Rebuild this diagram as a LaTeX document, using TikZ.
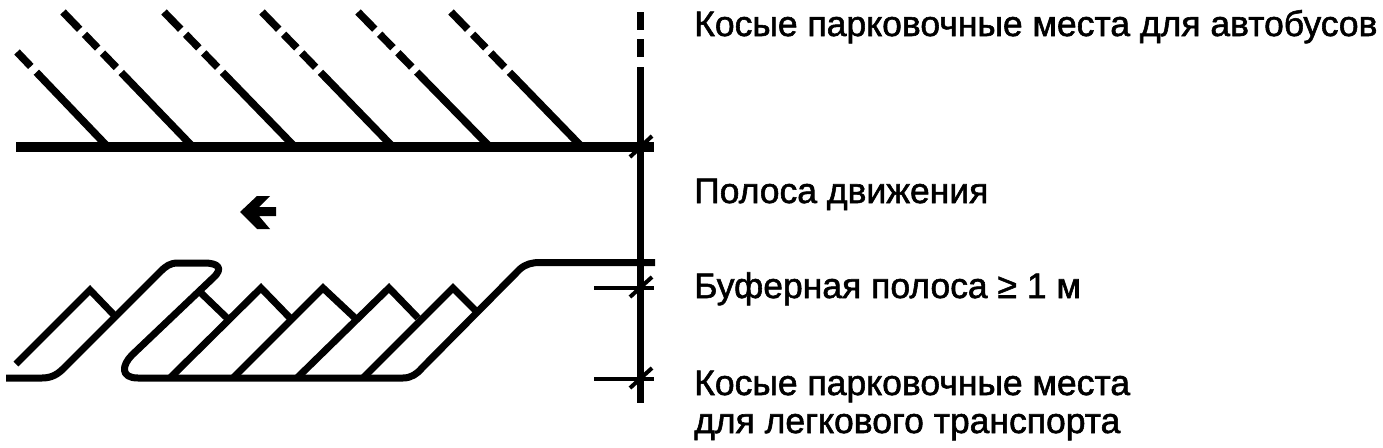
\documentclass[tikz,border=0pt]{standalone}
\usepackage{fontspec}
\setmainfont[FakeBold=1.6]{Liberation Sans}
\tikzset{
  x=1pt,y=-1pt,
  stripe/.style={line width=7.5pt,black,dash pattern=on 24pt off 7pt on 19pt off 7pt on 20pt off 7pt on 400pt off 0pt},
  shortstripe/.style={line width=7.5pt,black,dash pattern=on 20pt off 8pt on 400pt off 0pt},
  thick road/.style={line width=10pt,black},
  road/.style={line width=7pt,black,line join=round},
  stall/.style={line width=7pt,black,line join=miter},
  axis/.style={line width=7pt,black},
  dim/.style={line width=4pt,black},
  lab/.style={font=\fontsize{35.5}{38}\selectfont,anchor=base west,inner sep=0pt,text=black},
}
\begin{document}
\begin{tikzpicture}
\useasboundingbox (0,0) rectangle (1383,447);
% upper stripes
\draw[shortstripe] (17,52) -- (106,145);
\draw[stripe] (63,12) -- (191,145);
\draw[stripe] (164,12) -- (293,145);
\draw[stripe] (262,12) -- (391,145);
\draw[stripe] (358,12) -- (488,145);
\draw[stripe] (451,12) -- (580,145);
\draw[thick road] (16,147) -- (654,147);
% axis
\draw[axis,dash pattern=on 18pt off 9pt on 18pt off 10pt on 400pt off 0pt] (640.5,12) -- (640.5,403);
\draw[dim] (630,157) -- (652,136);
% arrow
\fill[black] (240,212) -- (257,196) -- (270,196) -- (259,207) -- (276,207) -- (276,216) -- (259,216) -- (270,229) -- (257,229) -- cycle;
% lower kerb
\draw[road] (6,378) -- (42,378) .. controls (52,378) and (58,374) .. (64,368)
  -- (160,272) .. controls (166,266) and (170,263) .. (178,263)
  -- (204,263) .. controls (218,263) and (224,268) .. (213,278)
  -- (132,355) .. controls (122,365) and (120,378) .. (138,378)
  -- (403,378) .. controls (411,378) and (417,374) .. (422,368)
  -- (520,269) .. controls (526,264) and (532,262.5) .. (540,262.5)
  -- (655,262.5);
% stalls
\draw[stall] (16,364) -- (90,290) -- (114,315);
\draw[stall] (200,292) -- (227,318);
\draw[stall] (170,378) -- (261,288) -- (292,320);
\draw[stall] (233,378) -- (323,288) -- (355,318);
\draw[stall] (297,378) -- (389,288) -- (418,318);
\draw[stall] (363,378) -- (453,288) -- (477,312);
% dimension ticks
\draw[dim] (594,288) -- (654,288);
\draw[dim] (630,297) -- (652,277);
\draw[dim] (594,379) -- (654,379);
\draw[dim] (630,388) -- (652,368);
% labels
\node[lab] (t1) at (694,36) {Косые парковочные места для автобусов};
\node[lab] (t2) at (694,203) {Полоса движения};
\node[lab] (t3) at (694,298) {Буферная полоса ≥ 1 м};
\node[lab] (t4) at (694,395) {Косые парковочные места};
\node[lab] (t5) at (694,433) {для легкового транспорта};
\end{tikzpicture}
\end{document}
